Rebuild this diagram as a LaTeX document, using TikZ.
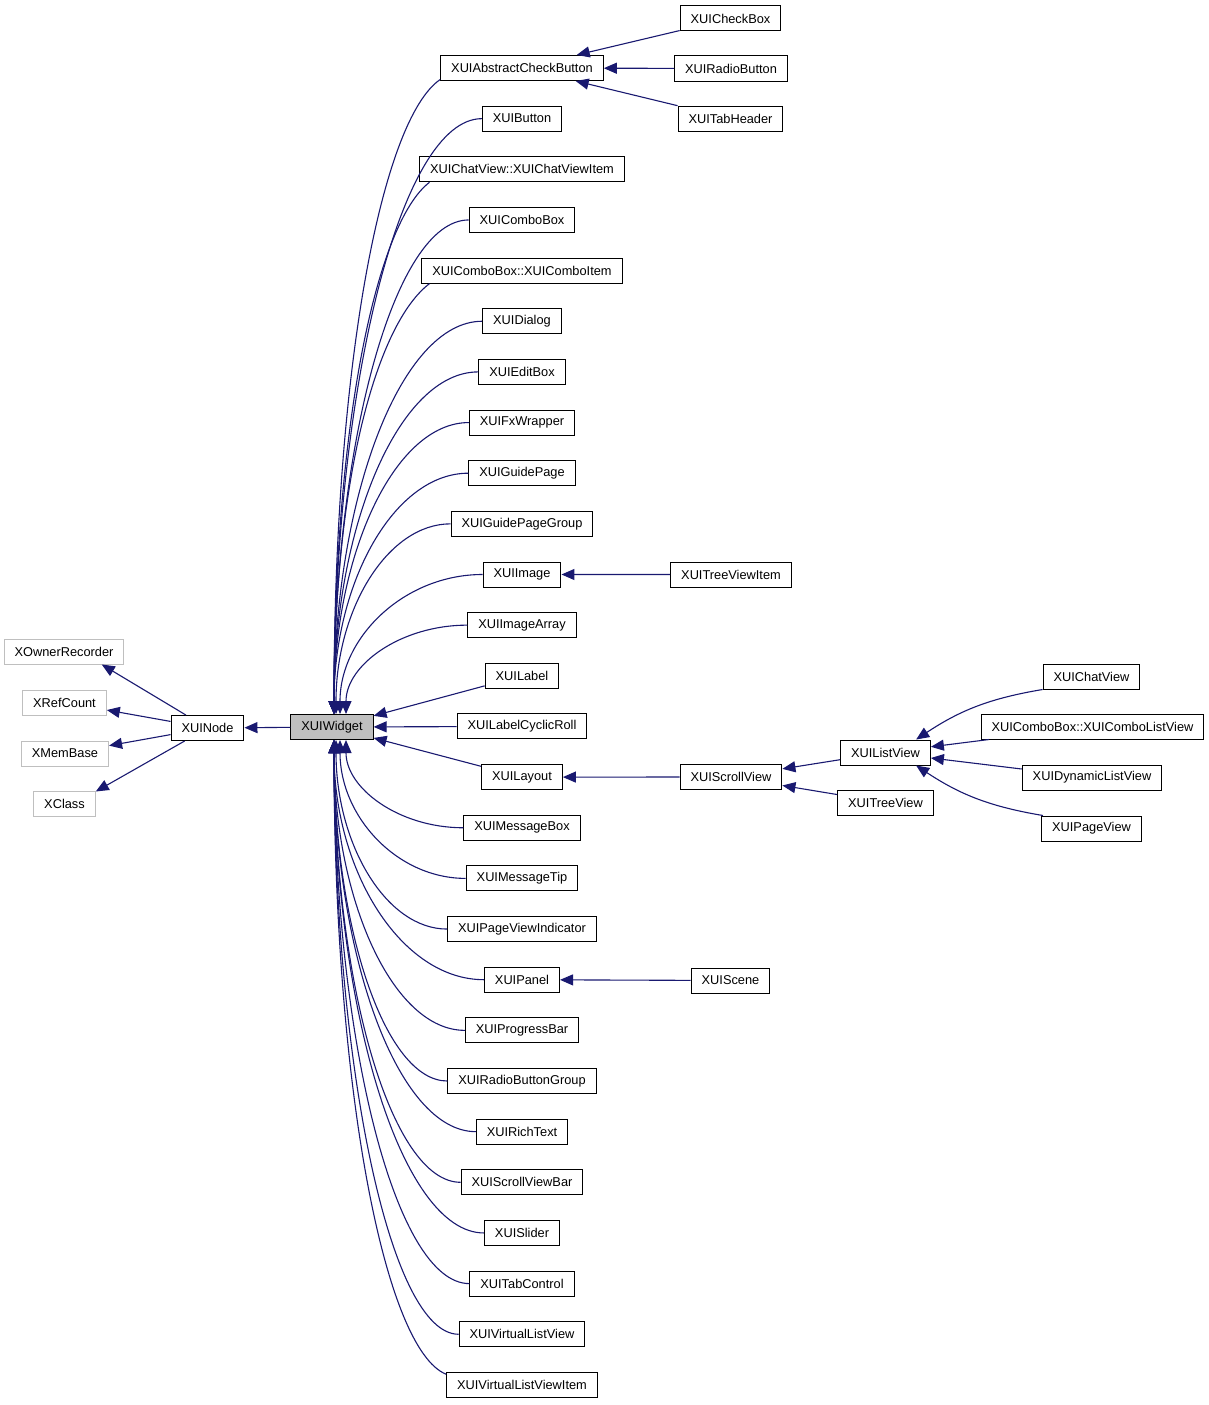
\documentclass[tikz,border=0pt]{standalone}
\usepackage{fontspec}
\setmainfont{Liberation Sans}
\usetikzlibrary{arrows.meta,calc}
\definecolor{edgeblue}{HTML}{191970}
\definecolor{boxgray}{HTML}{BFBFBF}

\begin{document}
\begin{tikzpicture}[x = 1pt, y = -1pt, font = \fontsize{12.8}{14}\selectfont,
    every node/.style = {shape = rectangle, draw, line width = 1pt, inner xsep = 10.5pt,
        inner ysep = 0pt, minimum height = 25pt},
    base/.style = {draw = boxgray},
    current/.style = {fill = boxgray},
    derive/.style = {draw = edgeblue, line width = 1.1pt,
        -{Triangle[length = 13pt, width = 11pt, fill = edgeblue]}}]
    \useasboundingbox (0,0) rectangle (1209,1405);
    % base classes
    \node[base] (owner) at (64,651.5) {XOwnerRecorder};
    \node[base] (refcount) at (64.5,702.5) {XRefCount};
    \node[base] (membase) at (65,753.5) {XMemBase};
    \node[base] (xclass) at (64.5,803.5) {XClass};
    \node (uinode) at (207.5,728) {XUINode};
    \node[current] (widget) at (332,727) {XUIWidget};
    % derived classes
    \foreach \name/\txt [count = \i from 0] in {acb/XUIAbstractCheckButton, button/XUIButton,
        chatitem/XUIChatView::XUIChatViewItem, combobox/XUIComboBox,
        comboitem/XUIComboBox::XUIComboItem, dialog/XUIDialog, editbox/XUIEditBox,
        fxwrapper/XUIFxWrapper, guidepage/XUIGuidePage, guidegroup/XUIGuidePageGroup,
        image/XUIImage, imagearray/XUIImageArray, label/XUILabel, cyclicroll/XUILabelCyclicRoll,
        layout/XUILayout, messagebox/XUIMessageBox, messagetip/XUIMessageTip,
        indicator/XUIPageViewIndicator, panel/XUIPanel, progressbar/XUIProgressBar,
        radiogroup/XUIRadioButtonGroup, richtext/XUIRichText, scrollbar/XUIScrollViewBar,
        slider/XUISlider, tabcontrol/XUITabControl, virtuallist/XUIVirtualListView,
        virtualitem/XUIVirtualListViewItem}
        \node (\name) at (522,{68 + 50.65*\i}) {\txt};
    \node (checkbox) at (730.5,18.5) {XUICheckBox};
    \node (radiobutton) at (731,68.5) {XUIRadioButton};
    \node (tabheader) at (730.5,118.5) {XUITabHeader};
    \node (treeitem) at (731,574.5) {XUITreeViewItem};
    \node (scrollview) at (731,777) {XUIScrollView};
    \node (listview) at (885.5,752.5) {XUIListView};
    \node (treeview) at (885.5,802.5) {XUITreeView};
    \node (chatview) at (1091.5,676.5) {XUIChatView};
    \node (combolist) at (1092.5,726.5) {XUIComboBox::XUIComboListView};
    \node (dynamiclist) at (1092,777.5) {XUIDynamicListView};
    \node (pageview) at (1091.5,828.5) {XUIPageView};
    \node (scene) at (730.5,980.5) {XUIScene};
    % edges
    \draw[derive] (uinode) -- (owner.-19);
    \draw[derive] (uinode) -- (refcount);
    \draw[derive] (uinode) -- (membase);
    \draw[derive] (uinode) -- (xclass.21);
    \draw[derive] (widget) -- (uinode);
    \foreach \name/\from/\k/\dx in {acb/188.5/40/2, button/west/0/2, chatitem/188.5/40/2,
        combobox/west/0/2, comboitem/188.5/40/2, dialog/west/0/2, editbox/west/0/2,
        fxwrapper/west/0/2, guidepage/west/0/2, guidegroup/west/0/4, image/west/0/8,
        imagearray/west/0/14}
        \draw[derive] let \p1 = (\name.\from), \p2 = ([xshift = \dx pt]widget.north) in
            (\p1) .. controls ({0.45*\x1 + 0.55*\x2},{\y1 - \k pt}) and (\x2,{0.55*\y1 + 0.45*\y2}) .. (\p2);
    \foreach \name/\from/\k/\dx in {messagebox/west/0/14, messagetip/west/0/8, indicator/west/0/4,
        panel/west/0/2, progressbar/west/0/2, radiogroup/west/0/2, richtext/west/0/2,
        scrollbar/west/0/2, slider/west/0/2, tabcontrol/west/0/2, virtuallist/west/0/2,
        virtualitem/172/25/2}
        \draw[derive] let \p1 = (\name.\from), \p2 = ([xshift = \dx pt]widget.south) in
            (\p1) .. controls ({0.45*\x1 + 0.55*\x2},{\y1 + \k pt}) and (\x2,{0.55*\y1 + 0.45*\y2}) .. (\p2);
    \foreach \name in {label, cyclicroll, layout}
        \draw[derive] (\name) -- (widget);
    \foreach \name in {checkbox, radiobutton, tabheader}
        \draw[derive] (\name) -- (acb);
    \draw[derive] (treeitem) -- (image);
    \draw[derive] (scrollview) -- (layout);
    \draw[derive] (scene) -- (panel);
    \draw[derive] (listview) -- (scrollview);
    \draw[derive] (treeview) -- (scrollview);
    \draw[derive] (chatview.south west) to[bend right = 12] (listview.23);
    \draw[derive] (combolist) -- (listview);
    \draw[derive] (dynamiclist) -- (listview);
    \draw[derive] (pageview.165) to[bend left = 12] (listview.-23);
\end{tikzpicture}
\end{document}
